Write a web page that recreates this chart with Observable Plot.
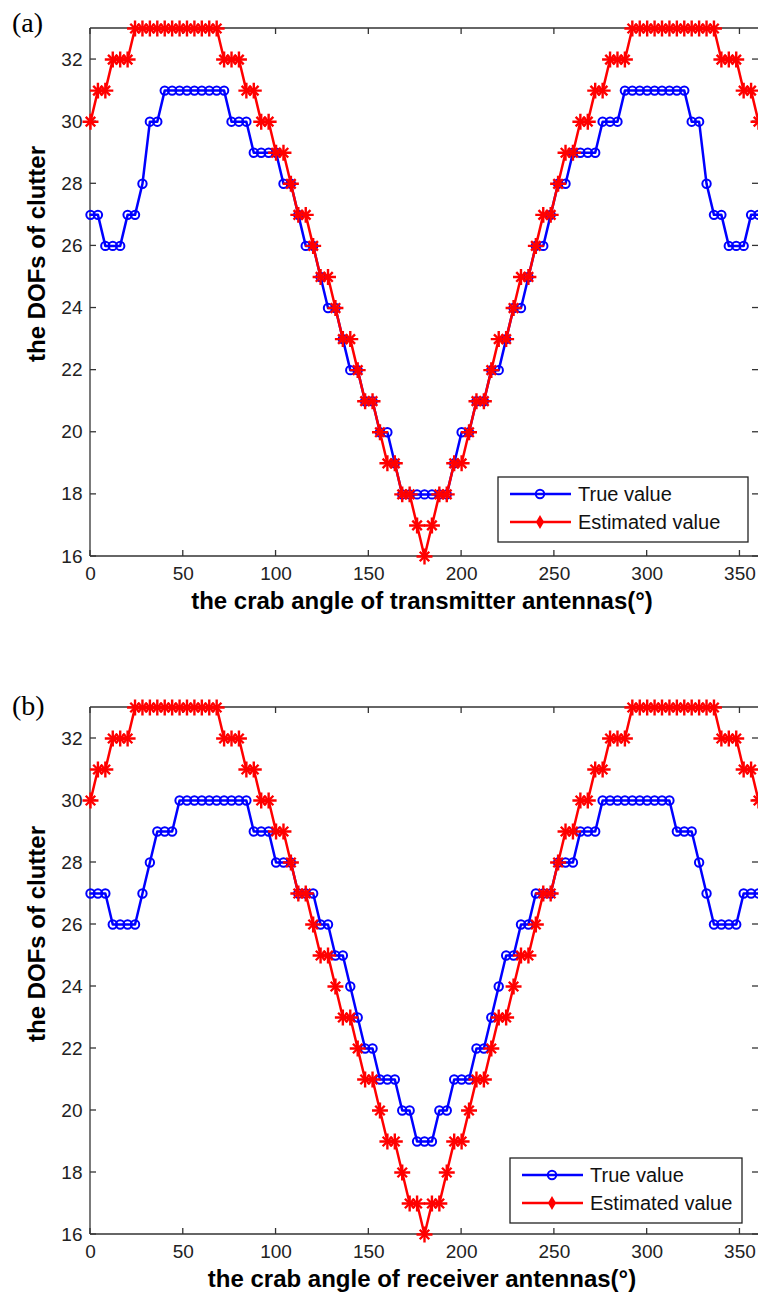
<!DOCTYPE html>
<html><head><meta charset="utf-8">
<script src="https://cdn.jsdelivr.net/npm/d3@7"></script>
<script src="https://cdn.jsdelivr.net/npm/@observablehq/plot@0.6"></script>
<style>
html,body{margin:0;padding:0;background:#fff;overflow:hidden;width:758px;height:1294px}
#wrap{position:relative;width:758px;height:1294px}
#wrap svg{display:block}
</style></head><body><div id="wrap"></div>
<script>
// crab angle (degrees)
const angles = [0,4,8,12,16,20,24,28,32,36,40,44,48,52,56,60,64,68,72,76,80,84,88,92,96,100,104,108,112,116,120,124,128,132,136,140,144,148,152,156,160,164,168,172,176,180,184,188,192,196,200,204,208,212,216,220,224,228,232,236,240,244,248,252,256,260,264,268,272,276,280,284,288,292,296,300,304,308,312,316,320,324,328,332,336,340,344,348,352,356,360];

// panel (a): transmitter antennas
const trueA = [27,27,26,26,26,27,27,28,30,30, 31,31,31,31,31,31,31,31,31, 30,30,30,29,29,29,29,28,28,27,26,26,25,24,24,23,22,22,21,21,20,20,19,18,18,18,18, 18,18,18,19,20,20,21,21,22,22,23,24,24,25,26,26,27,28,28,29,29,29,29,30,30,30, 31,31,31,31,31,31,31,31,31, 30,30,28,27,27,26,26,26,27,27];
const estA  = [30,31,31,32,32,32, 33,33,33,33,33,33,33,33,33,33,33,33, 32,32,32,31,31,30,30,29,29,28,27,27,26,25,25,24,23,23,22,21,21,20,19,19,18,18,17,16, 17,18,18,19,19,20,21,21,22,23,23,24,25,25,26,27,27,28,29,29,30,30,31,31,32,32,32, 33,33,33,33,33,33,33,33,33,33,33,33, 32,32,32,31,31,30];

// panel (b): receiver antennas
const trueB = [27,27,27,26,26,26,26,27,28,29,29,29, 30,30,30,30,30,30,30,30,30,30, 29,29,29,28,28,28,27,27,27,26,26,25,25,24,23,22,22,21,21,21,20,20,19,19, 19,20,20,21,21,21,22,22,23,24,25,25,26,26,27,27,27,28,28,28,29,29,29, 30,30,30,30,30,30,30,30,30,30, 29,29,29,28,27,26,26,26,26,27,27,27];
const estB  = [30,31,31,32,32,32, 33,33,33,33,33,33,33,33,33,33,33,33, 32,32,32,31,31,30,30,29,29,28,27,27,26,25,25,24,23,23,22,21,21,20,19,19,18,17,17,16, 17,17,18,19,19,20,21,21,22,23,23,24,25,25,26,27,27,28,29,29,30,30,31,31,32,32,32, 33,33,33,33,33,33,33,33,33,33,33,33, 32,32,32,31,31,30];

const xTicks = [0,50,100,150,200,250,300,350];
const yTicks = [16,18,20,22,24,26,28,30,32];
const seriesNames = ["True value", "Estimated value"];
const yLabel = "the DOFs of clutter";
const xLabelA = "the crab angle of transmitter antennas(°)";
const xLabelB = "the crab angle of receiver antennas(°)";

const BLUE = "#0000ff", RED = "#ff0000";
const SANS = "'Liberation Sans', Arial, Helvetica, sans-serif";

function panel(tru, est, o) {
  const data = angles.map((a, i) => ({a, t: tru[i], e: est[i]}));
  const chart = Plot.plot({
    width: 758, height: o.height,
    marginLeft: 90, marginRight: 0, marginTop: o.top, marginBottom: o.bottom,
    x: {domain: [0, 360]},
    y: {domain: [16, 33]},
    style: {fontFamily: SANS, fontSize: "19px", color: "#222", background: "white"},
    marks: [
      Plot.axisX({ticks: xTicks, tickSize: 0, tickPadding: 10, fontSize: 19, label: null, tickFormat: d => String(d)}),
      Plot.axisY({ticks: yTicks, tickSize: 0, tickPadding: 8, fontSize: 19, label: null}),
      Plot.line(data, {x: "a", y: "t", stroke: BLUE, strokeWidth: 2.5}),
      Plot.dot(data, {x: "a", y: "t", r: 4.2, stroke: BLUE, strokeWidth: 2, fill: "none"}),
      Plot.line(data, {x: "a", y: "e", stroke: RED, strokeWidth: 2.5}),
      Plot.dot(data, {x: "a", y: "e", symbol: "plus", r: 5.2, stroke: RED, strokeWidth: 2.4}),
      Plot.dot(data, {x: "a", y: "e", symbol: "times", r: 4.4, stroke: RED, strokeWidth: 2.4})
    ]
  });
  const svg = d3.select(chart);
  const xs = chart.scale("x"), ys = chart.scale("y");
  const x0 = xs.apply(0), x1 = xs.apply(360), yb = ys.apply(16), yt = ys.apply(33);
  const g = svg.insert("g", "g").attr("stroke", "#333").attr("stroke-width", 1.3).attr("fill", "none");
  g.append("line").attr("x1", x0).attr("x2", x0).attr("y1", yt).attr("y2", yb);
  g.append("line").attr("x1", x0).attr("x2", x1).attr("y1", yt).attr("y2", yt);
  g.append("line").attr("x1", x0).attr("x2", x1).attr("y1", yb).attr("y2", yb);
  for (const t of xTicks) {
    const x = xs.apply(t);
    g.append("line").attr("x1", x).attr("x2", x).attr("y1", yb).attr("y2", yb - 6);
    g.append("line").attr("x1", x).attr("x2", x).attr("y1", yt).attr("y2", yt + 6);
  }
  for (const t of yTicks) {
    const y = ys.apply(t);
    g.append("line").attr("x1", x0).attr("x2", x0 + 6).attr("y1", y).attr("y2", y);
    g.append("line").attr("x1", x1).attr("x2", x1 - 6).attr("y1", y).attr("y2", y);
  }
  // axis labels
  svg.append("text").attr("x", (x0 + x1) / 2 - 2).attr("y", yb + 53).attr("text-anchor", "middle")
    .attr("font-family", SANS).attr("font-weight", "bold").attr("font-size", 24).attr("fill", "#000").text(o.xlabel);
  svg.append("text").attr("transform", `translate(45,${o.ylabelY}) rotate(-90)`).attr("text-anchor", "middle")
    .attr("font-family", SANS).attr("font-weight", "bold").attr("font-size", 24).attr("fill", "#000").text(yLabel);
  svg.append("text").attr("x", 12).attr("y", o.letterY).attr("text-anchor", "start")
    .attr("font-family", "'Liberation Serif', 'Times New Roman', serif")
    .attr("font-size", 28).attr("fill", "#000").text(o.letter);
  // legend
  const L = o.legend;
  const lg = svg.append("g");
  lg.append("rect").attr("x", L.x).attr("y", L.y).attr("width", L.w).attr("height", L.h)
    .attr("fill", "white").attr("stroke", "#222").attr("stroke-width", 1.3);
  const rows = [{name: seriesNames[0], c: BLUE, dy: 17}, {name: seriesNames[1], c: RED, dy: 45}];
  rows.forEach((r, i) => {
    const yy = L.y + r.dy;
    lg.append("line").attr("x1", L.x + 12).attr("x2", L.x + 73).attr("y1", yy).attr("y2", yy)
      .attr("stroke", r.c).attr("stroke-width", 2.5);
    const cx = L.x + 42;
    if (i === 0) {
      lg.append("circle").attr("cx", cx).attr("cy", yy).attr("r", 4.2).attr("fill", "none").attr("stroke", BLUE).attr("stroke-width", 2);
    } else {
      lg.append("path").attr("transform", `translate(${cx},${yy})`).attr("d", d3.symbol(d3.symbolDiamond, 30)())
        .attr("stroke", RED).attr("stroke-width", 2).attr("fill", RED);
    }
    lg.append("text").attr("x", L.x + 80).attr("y", yy + 7).attr("text-anchor", "start")
      .attr("font-family", SANS).attr("font-size", 20).attr("fill", "#111").text(r.name);
  });
  return chart;
}

const wrap = document.getElementById("wrap");
wrap.append(panel(trueA, estA, {height: 640, top: 28, bottom: 84, xlabel: xLabelA, ylabelY: 254, letter: "(a)", letterY: 32,
  legend: {x: 498, y: 477, w: 250, h: 65}}));
wrap.append(panel(trueB, estB, {height: 654, top: 67, bottom: 60, xlabel: xLabelB, ylabelY: 294, letter: "(b)", letterY: 75,
  legend: {x: 510, y: 518, w: 232, h: 65}}));
</script>
</body></html>
